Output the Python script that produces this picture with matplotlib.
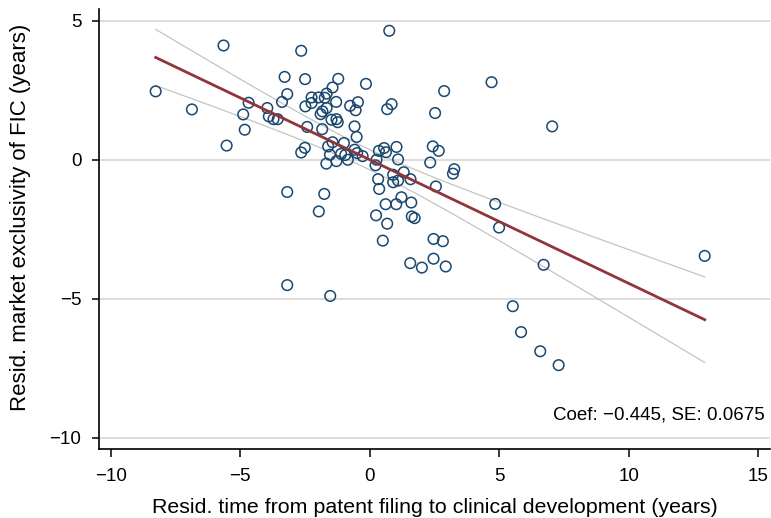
import numpy as np
import matplotlib
matplotlib.use('Agg')
import matplotlib.pyplot as plt

# residualized values (x: time to clinical development, y: market exclusivity)
resid_time = [-8.27, -6.87, -5.65, -5.53, -4.89, -4.83, -4.68, -3.96, -3.90, -3.72,
              -3.56, -3.39, -3.29, -3.19, -3.19, -3.19, -2.65, -2.50, -2.49, -2.42,
              -2.51, -2.65, -2.25, -2.25, -1.98, -1.97, -1.90, -1.83, -1.84, -1.76,
              -1.74, -1.67, -1.67, -1.68, -1.61, -1.54, -1.53, -1.48, -1.44, -1.44,
              -1.30, -1.29, -1.29, -1.24, -1.22, -1.11, -1.00, -0.95, -0.85, -0.76,
              -0.59, -0.59, -0.55, -0.51, -0.49, -0.46, -0.28, -0.15, 0.22, 0.24,
              0.26, 0.32, 0.35, 0.36, 0.50, 0.55, 0.61, 0.62, 0.67, 0.67,
              0.75, 0.84, 0.90, 0.90, 1.02, 1.03, 1.09, 1.09, 1.22, 1.31,
              1.56, 1.57, 1.60, 1.62, 1.73, 2.01, 2.33, 2.43, 2.46, 2.46,
              2.52, 2.55, 2.66, 2.82, 2.87, 2.93, 3.21, 3.26, 4.70, 4.84,
              4.99, 5.52, 5.84, 6.58, 6.71, 7.04, 7.29, 12.93]
resid_excl = [2.46, 1.81, 4.11, 0.51, 1.63, 1.08, 2.05, 1.86, 1.56, 1.46,
              1.46, 2.08, 2.98, 2.36, -1.16, -4.51, 3.92, 2.90, 1.92, 1.18,
              0.43, 0.26, 2.24, 2.04, 2.24, -1.86, 1.64, 1.74, 1.10, -1.23,
              2.23, 2.38, 1.86, -0.14, 0.48, 0.18, -4.90, 1.44, 2.60, 0.63,
              2.08, 1.46, -0.05, 1.35, 2.91, 0.21, 0.60, 0.17, 0.00, 1.94,
              1.20, 0.36, 1.78, 0.82, 0.24, 2.07, 0.13, 2.73, -0.20, -2.00,
              0.00, -0.70, 0.32, -1.05, -2.91, 0.42, -1.60, 0.27, 1.82, -2.30,
              4.64, 2.00, -0.54, -0.81, -1.60, 0.46, 0.01, -0.75, -1.35, -0.45,
              -3.72, -0.70, -1.54, -2.04, -2.10, -3.88, -0.10, 0.48, -2.85, -3.56,
              1.68, -0.96, 0.32, -2.93, 2.47, -3.84, -0.50, -0.34, 2.79, -1.59,
              -2.44, -5.27, -6.20, -6.89, -3.78, 1.20, -7.39, -3.46]

coef = -0.445
se = 0.0675
intercept = 0.0

x = np.array(resid_time)
y = np.array(resid_excl)

# fitted line and 95% CI of the mean prediction
xg = np.linspace(x.min(), x.max(), 200)
fit = intercept + coef * xg
n = len(x)
res = y - (intercept + coef * x)
s2 = np.sum(res ** 2) / (n - 2)
sxx = np.sum((x - x.mean()) ** 2)
half = 1.98 * np.sqrt(s2 * (1.0 / n + (xg - x.mean()) ** 2 / sxx))

plt.rcParams['font.family'] = ['Liberation Sans', 'DejaVu Sans']

fig = plt.figure(figsize=(7.71, 5.18), dpi=100)
ax = fig.add_axes([0.128, 0.133, 0.871, 0.85])

ax.plot(xg, fit + half, color='#c4c4c4', lw=0.9, zorder=2)
ax.plot(xg, fit - half, color='#c4c4c4', lw=0.9, zorder=2)
ax.scatter(x, y, s=58, facecolors='none', edgecolors='#1a476f', linewidths=1.1, zorder=3)
ax.plot(xg, fit, color='#90353b', lw=2.0, zorder=4)

ax.set_xlim(-10.47, 15.46)
ax.set_ylim(-10.41, 5.43)
ax.set_xticks([-10, -5, 0, 5, 10, 15])
ax.set_yticks([-10, -5, 0, 5])
ax.set_xticklabels(['\u221210', '\u22125', '0', '5', '10', '15'])
ax.set_yticklabels(['\u221210', '\u22125', '0', '5'])
ax.yaxis.grid(True, color='#dadada', lw=1.3)
ax.set_axisbelow(True)
ax.tick_params(labelsize=13.5, length=5.4, width=1.1, color='black', pad=7)
ax.tick_params(axis='x', pad=8.5)
for side in ['top', 'right']:
    ax.spines[side].set_visible(False)
for side in ['left', 'bottom']:
    ax.spines[side].set_linewidth(1.2)

ax.set_xlabel('Resid. time from patent filing to clinical development (years)', fontsize=15.4, labelpad=9)
ax.set_ylabel('Resid. market exclusivity of FIC (years)', fontsize=16)
ax.yaxis.set_label_coords(-0.101, 0.527)

ax.text(0.992, 0.077, 'Coef: \u22120.445, SE: 0.0675', transform=ax.transAxes,
        ha='right', va='center', fontsize=13.5)

fig.savefig('out.png', dpi=100)
